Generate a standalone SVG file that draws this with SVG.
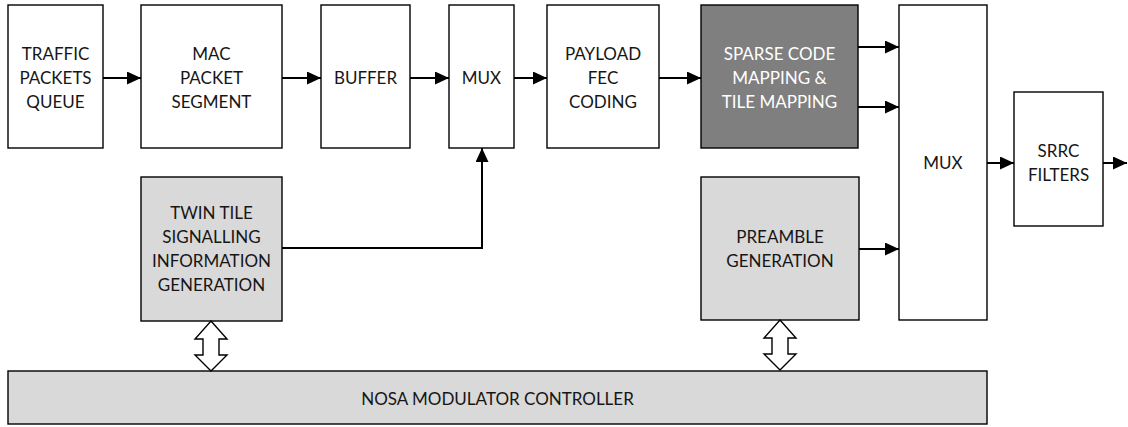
<svg xmlns="http://www.w3.org/2000/svg" width="1128" height="427" viewBox="0 0 1128 427">
<style>
.box{fill:#fff;stroke:#000;stroke-width:1.4}
.lg{fill:#d9d9d9;stroke:#000;stroke-width:1.4}
.dg{fill:#7f7f7f;stroke:#000;stroke-width:1.4}
text{font-family:Lato,"Liberation Sans",sans-serif;font-size:17px;fill:#161616;text-anchor:middle}
.w{fill:#fff}
.c{fill:none;stroke:#000;stroke-width:2}
.da{fill:#fff;stroke:#000;stroke-width:1.4}
</style>
<defs>
<marker id="ah" markerUnits="userSpaceOnUse" markerWidth="15" markerHeight="13" refX="14" refY="6.5" orient="auto">
<path d="M0,0 L14,6.5 L0,13 z" fill="#000"/>
</marker>
</defs>
<g id="traffic"><rect class="box" x="8" y="5" width="95" height="143"/>
<text x="55.5" y="60">TRAFFIC</text><text x="55.5" y="84">PACKETS</text><text x="55.5" y="108">QUEUE</text></g>
<g id="mac"><rect class="box" x="141" y="5" width="141" height="143"/>
<text x="211.5" y="60">MAC</text><text x="211.5" y="84">PACKET</text><text x="211.5" y="108">SEGMENT</text></g>
<g id="buffer"><rect class="box" x="321" y="5" width="89" height="143"/>
<text x="365.5" y="84">BUFFER</text></g>
<g id="mux1"><rect class="box" x="449" y="5" width="65" height="143"/>
<text x="481.5" y="84">MUX</text></g>
<g id="payload"><rect class="box" x="547" y="5" width="112" height="143"/>
<text x="603" y="60">PAYLOAD</text><text x="603" y="84">FEC</text><text x="603" y="108">CODING</text></g>
<g id="sparse"><rect class="dg" x="701" y="5" width="157" height="143"/>
<text class="w" x="779.5" y="60">SPARSE CODE</text><text class="w" x="779.5" y="84">MAPPING &amp;</text><text class="w" x="779.5" y="108">TILE MAPPING</text></g>
<g id="mux2"><rect class="box" x="899" y="5" width="88" height="315"/>
<text x="943" y="169">MUX</text></g>
<g id="srrc"><rect class="box" x="1014" y="92" width="89" height="134"/>
<text x="1058.5" y="157">SRRC</text><text x="1058.5" y="181">FILTERS</text></g>
<g id="twin"><rect class="lg" x="141" y="177" width="141" height="144"/>
<text x="211.5" y="219">TWIN TILE</text><text x="211.5" y="243">SIGNALLING</text><text x="211.5" y="267">INFORMATION</text><text x="211.5" y="291">GENERATION</text></g>
<g id="preamble"><rect class="lg" x="701" y="177" width="158" height="143"/>
<text x="780" y="243">PREAMBLE</text><text x="780" y="267">GENERATION</text></g>
<g id="nosa"><rect class="lg" x="8" y="371" width="979" height="53"/>
<text x="497.5" y="405">NOSA MODULATOR CONTROLLER</text></g>
<g id="connectors">
<line class="c" x1="103" y1="78" x2="141" y2="78" marker-end="url(#ah)"/>
<line class="c" x1="282" y1="78" x2="321" y2="78" marker-end="url(#ah)"/>
<line class="c" x1="410" y1="78" x2="449" y2="78" marker-end="url(#ah)"/>
<line class="c" x1="514" y1="78" x2="547" y2="78" marker-end="url(#ah)"/>
<line class="c" x1="659" y1="78" x2="701" y2="78" marker-end="url(#ah)"/>
<line class="c" x1="858" y1="47" x2="899" y2="47" marker-end="url(#ah)"/>
<line class="c" x1="858" y1="107" x2="899" y2="107" marker-end="url(#ah)"/>
<line class="c" x1="859" y1="249" x2="899" y2="249" marker-end="url(#ah)"/>
<line class="c" x1="987" y1="163" x2="1014" y2="163" marker-end="url(#ah)"/>
<line class="c" x1="1103" y1="163" x2="1127" y2="163" marker-end="url(#ah)"/>
<polyline class="c" points="282,248 482,248 482,148" marker-end="url(#ah)"/>
<path class="da" d="M211,321 L227,339 L219,339 L219,355 L227,355 L211,371 L195,355 L203,355 L203,339 L195,339 z"/>
<path class="da" d="M780,320 L796,338 L788,338 L788,354 L796,354 L780,370 L764,354 L772,354 L772,338 L764,338 z"/>
</g>
</svg>
